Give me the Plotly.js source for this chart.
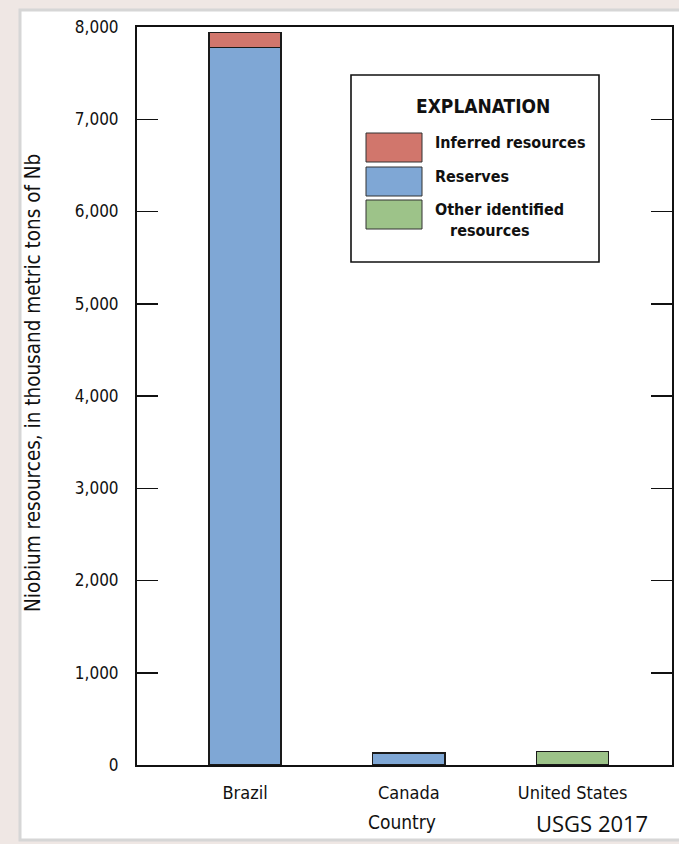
<!DOCTYPE html>
<html>
<head>
<meta charset="utf-8">
<script src="https://cdn.plot.ly/plotly-3.0.1.min.js"></script>
<style>
  html, body { margin: 0; padding: 0; background: #efe7e4; }
  #chart { width: 679px; height: 844px; }
</style>
</head>
<body>
<div id="chart"></div>
<script>
// ---- data ----
const countries = ['Brazil', 'Canada', 'United States'];
const reserves = [7780, 130, null];
const inferredResources = [160, null, null];
const otherIdentified = [null, null, 145];
const yTickValues = [0, 1000, 2000, 3000, 4000, 5000, 6000, 7000, 8000];

const seriesNames = ['Inferred resources', 'Reserves', 'Other identified<br>  resources'];
const seriesColors = ['#d1766c', '#7fa7d5', '#9dc389'];

// ---- layout geometry (pixels) ----
const W = 679, H = 844;
const M = { l: 137, r: 7, t: 27, b: 79 };
const plotW = W - M.l - M.r, plotH = H - M.t - M.b;
const px2x = p => (p - M.l) / plotW;
const px2y = p => (H - M.b - p) / plotH;

const narrow = '"DejaVu Sans Condensed", "Liberation Sans Narrow", sans-serif';
const outline = { color: '#1a1a1a', width: 1.3 };

const traces = [
  { type: 'bar', name: seriesNames[1], x: countries, y: reserves,
    marker: { color: seriesColors[1], line: outline }, width: 0.44 },
  { type: 'bar', name: seriesNames[0], x: countries, y: inferredResources,
    marker: { color: seriesColors[0], line: outline }, width: 0.44 },
  { type: 'bar', name: seriesNames[2], x: countries, y: otherIdentified,
    marker: { color: seriesColors[2], line: outline }, width: 0.44 }
];

// ---- custom explanation box built from the series ----
const shapes = [
  // white sheet with grey edge
  { type: 'rect', xref: 'paper', yref: 'paper', layer: 'below',
    x0: px2x(20), x1: px2x(681), y0: px2y(840), y1: px2y(10),
    fillcolor: '#ffffff', line: { color: '#d6d6d6', width: 3 } },
  // explanation frame
  { type: 'rect', xref: 'paper', yref: 'paper',
    x0: px2x(351), x1: px2x(599), y0: px2y(262), y1: px2y(75),
    fillcolor: '#ffffff', line: { color: '#111', width: 1.6 } }
];
const annotations = [
  { xref: 'paper', yref: 'paper', x: px2x(483), y: px2y(106), xanchor: 'center', yanchor: 'middle',
    text: '<b>EXPLANATION</b>', showarrow: false, font: { family: narrow, size: 19, color: '#111' } }
];
const rowTops = [133, 167, 200];
const legendOrder = [0, 1, 2];
legendOrder.forEach((k, i) => {
  const top = rowTops[i];
  shapes.push({ type: 'rect', xref: 'paper', yref: 'paper',
    x0: px2x(366), x1: px2x(422), y0: px2y(top + 29), y1: px2y(top),
    fillcolor: seriesColors[k], line: { color: '#333', width: 1 } });
  annotations.push({ xref: 'paper', yref: 'paper', x: px2x(433), y: px2y(top - 2),
    xanchor: 'left', yanchor: 'top', align: 'left', showarrow: false,
    text: '<b>' + seriesNames[k].replace('<br>  ', '<br>   ') + '</b>',
    font: { family: narrow, size: 16, color: '#111' } });
});

// axis title and footer texts
annotations.push(
  { xref: 'paper', yref: 'paper', x: px2x(33), y: px2y(383), xanchor: 'center', yanchor: 'middle',
    textangle: -90, showarrow: false, text: 'Niobium resources, in thousand metric tons of Nb',
    font: { family: narrow, size: 20.5, color: '#111' } },
  { xref: 'paper', yref: 'paper', x: px2x(402), y: px2y(822), xanchor: 'center', yanchor: 'middle',
    showarrow: false, text: 'Country', font: { family: narrow, size: 19, color: '#111' } },
  { xref: 'paper', yref: 'paper', x: px2x(592), y: px2y(823), xanchor: 'center', yanchor: 'middle',
    showarrow: false, text: 'USGS 2017', font: { family: '"Open Sans", "Noto Sans", sans-serif', size: 22, color: '#111' } }
);

const layout = {
  width: W, height: H,
  margin: M,
  paper_bgcolor: '#efe7e4',
  plot_bgcolor: 'rgba(0,0,0,0)',
  barmode: 'stack',
  showlegend: false,
  font: { family: narrow, color: '#111' },
  xaxis: {
    type: 'category', range: [-0.66, 2.607],
    showline: true, linecolor: '#111', linewidth: 2, mirror: true,
    ticks: '', showgrid: false, zeroline: false,
    tickfont: { family: narrow, size: 18, color: '#111' },
    ticklabelstandoff: 10
  },
  yaxis: {
    range: [0, 8000], tickvals: yTickValues, tickformat: ',',
    showline: true, linecolor: '#111', linewidth: 2, mirror: 'ticks',
    ticks: 'inside', ticklen: 21, tickwidth: 1.5, tickcolor: '#111',
    showgrid: false, zeroline: false,
    tickfont: { family: narrow, size: 17, color: '#111' },
    ticklabelstandoff: 13
  },
  shapes: shapes,
  annotations: annotations
};

Plotly.newPlot('chart', traces, layout, { displayModeBar: false, staticPlot: true });
</script>
</body>
</html>
